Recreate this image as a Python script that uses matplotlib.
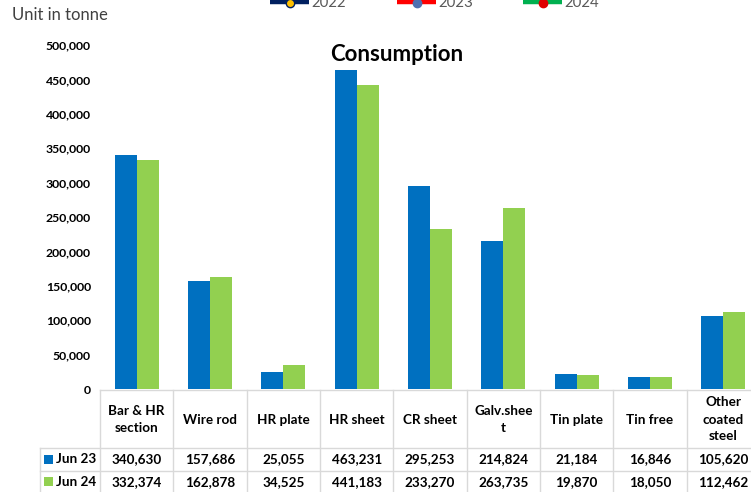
import matplotlib
matplotlib.use("Agg")
import matplotlib.pyplot as plt
import matplotlib.transforms as mtransforms
from matplotlib.lines import Line2D
from matplotlib.patches import Rectangle

categories = ["Bar & HR\nsection", "Wire rod", "HR plate", "HR sheet", "CR sheet",
              "Galv.shee\nt", "Tin plate", "Tin free", "Other\ncoated\nsteel"]
series_names = ["Jun 23", "Jun 24"]
jun23 = [340630, 157686, 25055, 463231, 295253, 214824, 21184, 16846, 105620]
jun24 = [332374, 162878, 34525, 441183, 233270, 263735, 19870, 18050, 112462]
yticks = [0, 50000, 100000, 150000, 200000, 250000, 300000, 350000, 400000, 450000, 500000]
legend_years = ["2022", "2023", "2024"]

W, H = 751, 492
BLUE = "#0070C0"
GREEN = "#92D050"
GRID = "#D9D9D9"
FONT = "Lato"

plt.rcParams['font.family'] = [FONT, 'DejaVu Sans']

fig = plt.figure(figsize=(W / 100, H / 100), dpi=100)
fig.patch.set_facecolor("white")

def fx(px):
    return px / W

def fy(py):
    return 1 - py / H

ax_left, ax_w = 100, 660
ax_top, ax_bot = 45, 389
ax = fig.add_axes([fx(ax_left), fy(ax_bot), ax_w / W, (ax_bot - ax_top) / H])
n = len(categories)
x = list(range(n))
bw = 0.3
ax.bar([i - bw / 2 for i in x], jun23, width=bw, color=BLUE, zorder=2)
ax.bar([i + bw / 2 for i in x], jun24, width=bw, color=GREEN, zorder=2)
ax.set_xlim(-0.5, n - 0.5)
ax.set_ylim(0, 500000)
ax.set_yticks(yticks)
ax.set_yticklabels([f"{v:,}" for v in yticks], fontsize=8.8, fontweight="bold", color="#000000")
ax.tick_params(axis="y", length=0, pad=6.5)
ax.set_xticks([])
for s in ax.spines.values():
    s.set_visible(False)

fig.text(fx(396.5), fy(61), "Consumption", ha="center", va="baseline",
         fontsize=16, fontweight="bold")

# data table
tr = mtransforms.blended_transform_factory(ax.transData, fig.transFigure)
y_head_top, y_head_bot, y_r1_bot, y_r2_bot = 390, 448, 470.5, 494
lab_left = (40 - ax_left) / (ax_w / n) - 0.5
lines = []
lines.append(((-0.5, n - 0.5), (y_head_top, y_head_top)))
for yy in (y_head_bot, y_r1_bot, y_r2_bot):
    lines.append(((lab_left, n - 0.5), (yy, yy)))
for k in range(n + 1):
    lines.append(((k - 0.5, k - 0.5), (y_head_top, y_r2_bot)))
lines.append(((lab_left, lab_left), (y_head_bot, y_r2_bot)))
for xs, ys in lines:
    fig.add_artist(Line2D(xs, [fy(v) for v in ys], transform=tr, color=GRID, lw=1, clip_on=False))

for i, c in enumerate(categories):
    ax.text(i, fy((y_head_top + y_head_bot) / 2 + 0.5), c, transform=tr, ha="center", va="center",
            fontsize=9.7, fontweight="bold", linespacing=1.5, clip_on=False)
rows = [jun23, jun24]
row_cols = [BLUE, GREEN]
row_y = [(y_head_bot + y_r1_bot) / 2, (y_r1_bot + 492) / 2 + 0.5]
for r, (vals, col, name) in enumerate(zip(rows, row_cols, series_names)):
    yc = row_y[r]
    for i, v in enumerate(vals):
        ax.text(i, fy(yc), f"{v:,}", transform=tr, ha="center", va="center",
                fontsize=9.7, fontweight="bold", clip_on=False)
    fig.add_artist(Rectangle((fx(44), fy(yc + 4.5)), 9 / W, 9 / H, transform=fig.transFigure,
                             facecolor=col, edgecolor="none"))
    fig.text(fx(56), fy(yc), name, ha="left", va="center", fontsize=9.7, fontweight="bold")

fig.text(fx(12), fy(15), "Unit in tonne", ha="left", va="center", fontsize=12, color="#404040")

# legend (cut off at top, as in the reference)
leg_line = ["#002060", "#FF0000", "#00B050"]
leg_mark = ["#FFC000", "#4F6FB0", "#E00000"]
leg_medge = ["#002060", "#4F6FB0", "#E00000"]
leg_x = [270, 397, 523]
for yr, lc, mc, me, lx in zip(legend_years, leg_line, leg_mark, leg_medge, leg_x):
    fig.add_artist(Line2D([fx(lx), fx(lx + 39)], [fy(1.5), fy(1.5)], transform=fig.transFigure,
                          color=lc, lw=3.2, solid_capstyle="butt"))
    fig.add_artist(Line2D([fx(lx + 19.5)], [fy(2.5)], transform=fig.transFigure, marker="o",
                          markersize=6, markerfacecolor=mc, markeredgecolor=me,
                          markeredgewidth=1, lw=0))
    fig.text(fx(lx + 41), fy(7.3), yr, ha="left", va="baseline", fontsize=10.8, color="#595959")

fig.savefig("out.png", dpi=100, facecolor="white")
